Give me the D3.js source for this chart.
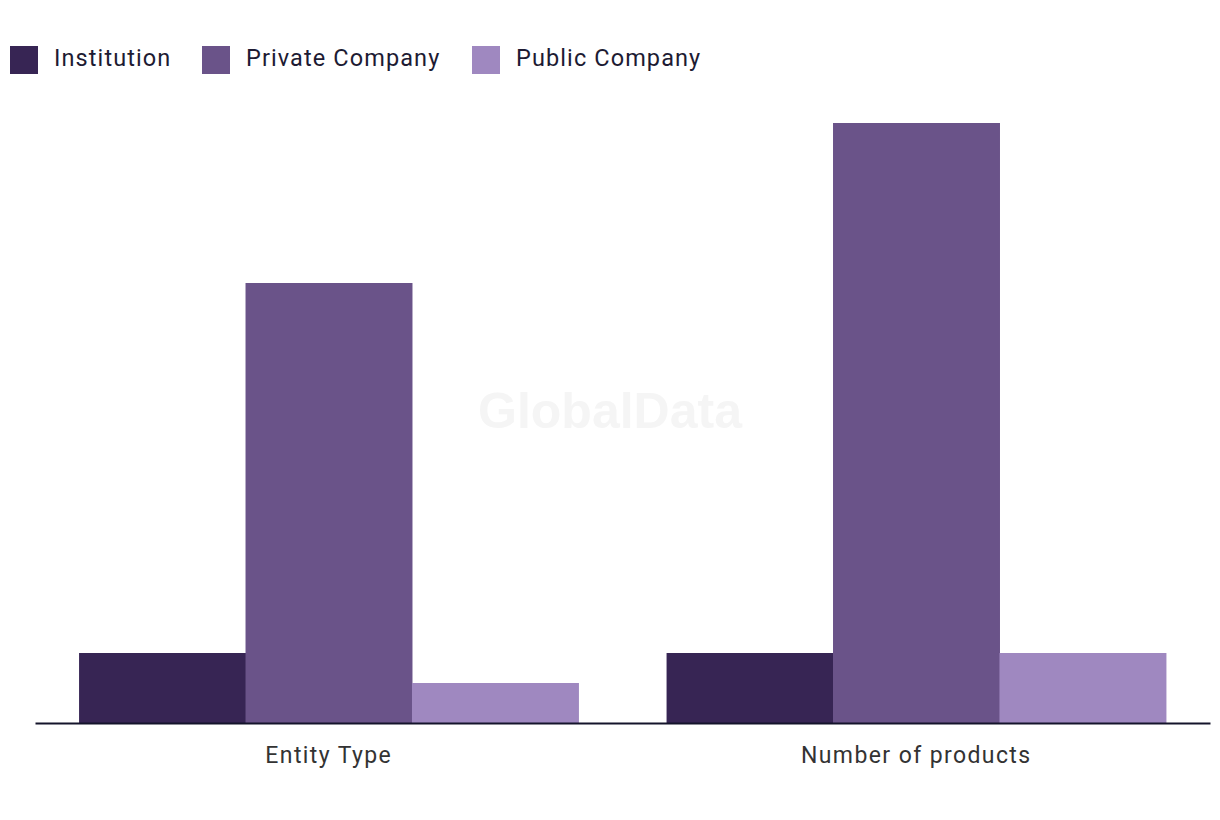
<!DOCTYPE html>
<html><head><meta charset="utf-8">
<script src="https://cdn.jsdelivr.net/npm/d3@7"></script>
<style>html,body{margin:0;padding:0;background:#fff;}svg{display:block;}</style>
</head><body>
<svg id="chart" width="1220" height="820"></svg>
<script>
const categories = ["Entity Type", "Number of products"];
const seriesNames = ["Institution", "Private Company", "Public Company"];
const institution = [7, 7];
const privateCompany = [44, 60];
const publicCompany = [4, 7];
const colors = ["#372554", "#6a5389", "#9f88c0"];

const seriesValues = [institution, privateCompany, publicCompany];
const svg = d3.select("#chart");
const font = "Roboto, 'Noto Sans', sans-serif";

// watermark
svg.append("text").attr("x", 610).attr("y", 428).attr("text-anchor", "middle")
  .attr("font-family", "'Liberation Sans', Arial, sans-serif").attr("font-weight", "bold")
  .attr("font-size", 50).attr("fill", "#f5f5f5").text("GlobalData");

const x0 = d3.scaleBand().domain(categories).range([35, 1210]).paddingInner(0.15).paddingOuter(0.075);
const x1 = d3.scaleBand().domain(seriesNames).range([0, x0.bandwidth()]);
const y = d3.scaleLinear().domain([0, 60]).range([723, 123]);

const groups = svg.append("g").selectAll("g").data(categories).join("g")
  .attr("transform", d => `translate(${x0(d)},0)`);
groups.selectAll("rect").data((c, ci) => seriesNames.map((s, si) => ({s, si, v: seriesValues[si][ci]})))
  .join("rect")
  .attr("x", d => x1(d.s)).attr("width", x1.bandwidth() + 0.5)
  .attr("y", d => y(d.v)).attr("height", d => y(0) - y(d.v))
  .attr("fill", d => colors[d.si]);

const axis = svg.append("g").attr("transform", `translate(0,${y(0)})`)
  .call(d3.axisBottom(x0).tickSize(0).tickPadding(24));
axis.select(".domain").attr("stroke", "#14142b").attr("stroke-width", 2);
axis.selectAll("text").attr("font-family", font).attr("font-size", 23)
  .attr("letter-spacing", 1.4).attr("fill", "#333");

// legend
const legendX = [10, 202, 472];
const lg = svg.append("g").selectAll("g").data(seriesNames).join("g")
  .attr("transform", (d, i) => `translate(${legendX[i]},46)`);
lg.append("rect").attr("width", 28).attr("height", 28).attr("fill", (d, i) => colors[i]);
lg.append("text").attr("x", 44).attr("y", 20).attr("font-family", font).attr("font-size", 23.5)
  .attr("letter-spacing", 1.1).attr("fill", "#1d1b33").text(d => d);
</script>
</body></html>
